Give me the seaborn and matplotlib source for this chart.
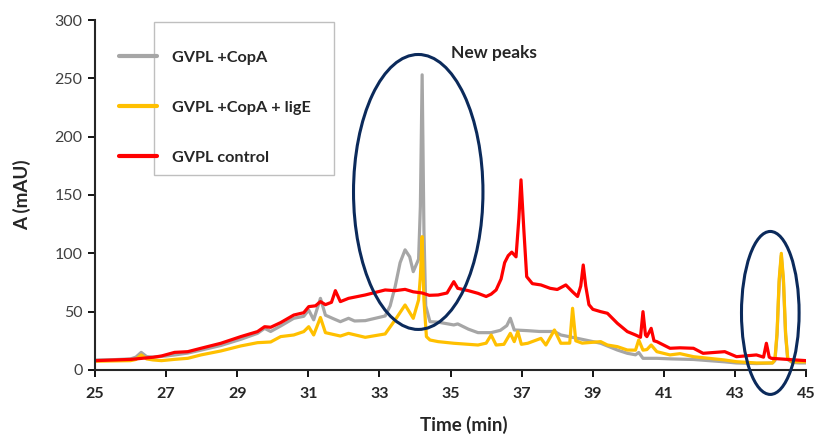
import pandas as pd
import matplotlib.pyplot as plt
import seaborn as sns
from matplotlib.patches import Ellipse, Rectangle

# ==========================
# DATA
# ==========================

series_names = ["GVPL +CopA", "GVPL +CopA + ligE", "GVPL control"]
series_colors = ["#a6a6a6", "#ffc000", "#ff0000"]

copa_time = [25.0, 25.5, 26.0, 26.15, 26.3, 26.45, 26.63, 27.0, 27.24, 27.61,
             27.98, 28.54, 29.1, 29.57, 29.77, 29.94, 30.22, 30.59, 30.87, 31.01,
             31.15, 31.34, 31.48, 31.7, 31.9, 32.13, 32.3, 32.6, 33.16, 33.3,
             33.44, 33.58, 33.72, 33.85, 33.95, 34.1, 34.15, 34.2, 34.25, 34.3,
             34.42, 34.65, 35.09, 35.2, 35.5, 35.77, 36.14, 36.4, 36.58, 36.68,
             36.79, 37.17, 37.5, 37.92, 38.1, 38.57, 39.22, 39.69, 39.97, 40.2,
             40.29, 40.41, 40.8, 41.2, 41.83, 42.7, 43.04, 43.6, 44.05, 44.12,
             44.18, 44.24, 44.3, 44.36, 44.42, 44.48, 44.6, 44.8, 45.0]
copa_abs = [8.5, 8.8, 9.5, 11, 15.1, 11.5, 11, 12, 12.9, 14.5,
            17, 21, 26.3, 31.4, 35.7, 33, 37.7, 44.3, 46, 51.4,
            43, 61.4, 47, 44, 41.4, 44.3, 42, 42.3, 46.3, 55,
            71.4, 92, 103, 97, 84.3, 95, 140, 253, 120, 55,
            41.4, 41, 38.6, 39.5, 35, 32, 32, 34, 38, 44.3,
            34.3, 33.7, 33, 33, 30, 27.1, 22.9, 17.1, 14.3, 13,
            15, 10, 10, 9.5, 9, 7, 6, 5.5, 6, 8,
            30, 75, 98, 75, 30, 9, 6.5, 6, 6]

lige_time = [25.0, 26.0, 26.15, 26.3, 26.45, 26.63, 26.87, 27.24, 27.61, 27.98,
             28.54, 29.1, 29.57, 29.94, 30.22, 30.59, 30.87, 31.01, 31.15, 31.34,
             31.48, 31.9, 32.13, 32.6, 33.16, 33.44, 33.72, 33.95, 34.1, 34.15,
             34.2, 34.25, 34.32, 34.42, 34.65, 35.09, 35.77, 36.0, 36.14, 36.28,
             36.5, 36.68, 36.79, 36.89, 36.99, 37.17, 37.54, 37.68, 37.92, 38.1,
             38.35, 38.43, 38.52, 38.7, 39.22, 39.41, 39.69, 39.97, 40.2, 40.29,
             40.41, 40.52, 40.64, 40.8, 41.17, 41.45, 41.83, 42.7, 43.04, 43.6,
             44.05, 44.12, 44.18, 44.24, 44.3, 44.36, 44.42, 44.48, 44.6, 44.8,
             45.0]
lige_abs = [7.5, 8, 9, 12.9, 9.5, 8.6, 8, 9.1, 10, 12.9,
            16.3, 20.6, 23.4, 24, 28.6, 30, 32.9, 37.1, 30, 45,
            32, 29.1, 31.4, 28, 30.9, 42.9, 55.7, 44.3, 60, 80,
            114.3, 60, 28.6, 25.7, 24.3, 22.9, 21.4, 23, 30, 21.4,
            22, 31.4, 24.3, 32.9, 22, 22.9, 27.1, 21.4, 34.3, 22.9,
            23, 52.9, 25, 23, 24.3, 21.4, 20, 17.1, 17, 25.7,
            17, 17.5, 21.4, 15.7, 12.9, 14, 11.4, 8.6, 7.1, 6,
            6, 9, 32, 78, 100, 78, 32, 10, 7, 7, 7]

control_time = [25.0, 26.02, 26.63, 26.87, 27.24, 27.61, 27.98, 28.54, 29.1, 29.57,
                29.77, 29.94, 30.22, 30.59, 30.87, 31.01, 31.2, 31.34, 31.48, 31.65,
                31.76, 31.9, 32.13, 32.6, 33.16, 33.44, 33.72, 33.95, 34.2, 34.4,
                34.65, 34.9, 35.09, 35.2, 35.5, 35.77, 36.0, 36.14, 36.28, 36.42,
                36.52, 36.62, 36.72, 36.84, 36.92, 36.98, 37.06, 37.14, 37.3, 37.54,
                37.8, 38.0, 38.24, 38.43, 38.57, 38.66, 38.73, 38.8, 38.89, 39.0,
                39.22, 39.41, 39.69, 39.97, 40.2, 40.34, 40.41, 40.48, 40.52, 40.64,
                40.72, 40.8, 41.17, 41.45, 41.83, 42.1, 42.71, 43.04, 43.6, 43.8,
                43.88, 43.96, 44.02, 44.5, 45.0]
control_abs = [8, 9.1, 10.9, 12, 15.1, 15.7, 18.6, 22.9, 28.6, 32.9,
               37.1, 36.6, 40.6, 47.1, 49.1, 54.3, 55, 58.6, 56, 58,
               68, 58.6, 61.4, 64.3, 68.6, 68, 69.1, 67, 66, 64,
               64.3, 66, 75.7, 70, 68, 65.7, 63, 65, 68.6, 78,
               92, 98, 101, 97, 130, 163, 120, 80, 74, 72.9,
               70, 69, 72.9, 67, 63, 72, 90, 72, 56, 52,
               50, 48.6, 40, 32.9, 30, 28, 50, 30, 28.6, 35.7,
               25, 24.3, 18.6, 19, 18.6, 14.3, 15.7, 11.4, 12.9, 11,
               22.9, 11, 10, 9, 8]

x_ticks = [25, 27, 29, 31, 33, 35, 37, 39, 41, 43, 45]
y_ticks = [0, 50, 100, 150, 200, 250, 300]

# Long format table for seaborn
df = pd.concat([
    pd.DataFrame({"Time": copa_time, "A": copa_abs, "Sample": series_names[0]}),
    pd.DataFrame({"Time": lige_time, "A": lige_abs, "Sample": series_names[1]}),
    pd.DataFrame({"Time": control_time, "A": control_abs, "Sample": series_names[2]}),
], ignore_index=True)

# ==========================
# PLOT
# ==========================

sns.set_style("ticks")
plt.rcParams["font.family"] = ["Lato", "DejaVu Sans"]

fig, ax = plt.subplots(figsize=(8.16, 4.38), dpi=100)
fig.subplots_adjust(left=0.1164, right=0.988, bottom=0.1553, top=0.9543)

sns.lineplot(
    data=df,
    x="Time",
    y="A",
    hue="Sample",
    hue_order=series_names,
    palette=dict(zip(series_names, series_colors)),
    estimator=None,
    linewidth=2.3,
    ax=ax
)

ax.set_xlim(25, 45)
ax.set_ylim(0, 300)
ax.set_xticks(x_ticks)
ax.set_yticks(y_ticks)

for lbl in ax.get_xticklabels():
    lbl.set_fontweight("bold")
    lbl.set_fontsize(11.5)
for lbl in ax.get_yticklabels():
    lbl.set_fontsize(11.5)
    lbl.set_color("#404040")

ax.tick_params(axis="both", direction="out", length=5, width=1.3, color="black")
ax.tick_params(axis="x", pad=7)
ax.tick_params(axis="y", pad=4)
ax.spines["top"].set_visible(False)
ax.spines["right"].set_visible(False)
ax.spines["left"].set_linewidth(1.5)
ax.spines["bottom"].set_linewidth(1.5)

ax.set_xlabel("Time (min)", fontweight="bold", fontsize=13.5, labelpad=13)
ax.set_ylabel("A (mAU)", fontweight="bold", fontsize=13.5, labelpad=17)
ax.xaxis.set_label_coords(0.519, -0.13)

# legend, with the box drawn separately like the original
sns.move_legend(
    ax,
    "upper left",
    bbox_to_anchor=(0.0226, 0.937),
    frameon=False,
    title=None,
    prop={"weight": "bold", "size": 11.7},
    handlelength=2.35,
    handletextpad=0.9,
    labelspacing=2.2,
    borderpad=0,
)
for line in ax.get_legend().get_lines():
    line.set_linewidth(3)

ax.add_patch(Rectangle((0.0825, 0.557), 0.253, 0.437, transform=ax.transAxes,
                       fill=False, edgecolor="#bfbfbf", linewidth=1, zorder=1))

# highlight ellipses
ax.add_patch(Ellipse((34.09, 152.6), 3.64, 235.7, fill=False,
                     edgecolor="#0b2a5b", linewidth=2.2, clip_on=False, zorder=5))
ax.add_patch(Ellipse((43.99, 48.9), 1.62, 139.7, fill=False,
                     edgecolor="#0b2a5b", linewidth=2.2, clip_on=False, zorder=5))

ax.text(35.0, 272, "New peaks", fontweight="bold", fontsize=12.5, ha="left", va="center")

plt.savefig("out.png", dpi=100)
plt.close()
